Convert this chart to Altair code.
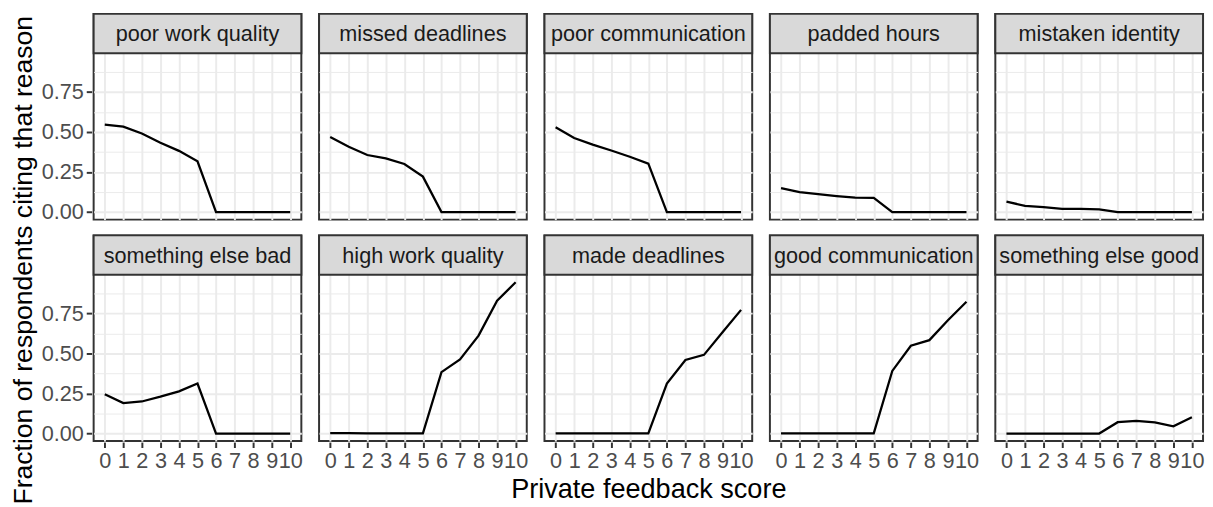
import altair as alt
import pandas as pd

reasons = [
    "poor work quality", "missed deadlines", "poor communication", "padded hours", "mistaken identity",
    "something else bad", "high work quality", "made deadlines", "good communication", "something else good",
]
scores = [0, 1, 2, 3, 4, 5, 6, 7, 8, 9, 10]

poor_work_quality = [0.546, 0.533, 0.490, 0.433, 0.382, 0.317, 0, 0, 0, 0, 0]
missed_deadlines = [0.468, 0.407, 0.356, 0.335, 0.300, 0.221, 0, 0, 0, 0, 0]
poor_communication = [0.529, 0.462, 0.421, 0.384, 0.345, 0.302, 0, 0, 0, 0, 0]
padded_hours = [0.149, 0.125, 0.112, 0.100, 0.090, 0.088, 0, 0, 0, 0, 0]
mistaken_identity = [0.065, 0.039, 0.031, 0.020, 0.020, 0.016, 0, 0, 0, 0, 0]
something_else_bad = [0.245, 0.190, 0.200, 0.230, 0.263, 0.312, 0, 0, 0, 0, 0]
high_work_quality = [0.002, 0.002, 0.001, 0.001, 0.001, 0.001, 0.383, 0.463, 0.611, 0.829, 0.944]
made_deadlines = [0.001, 0.001, 0.001, 0.001, 0.001, 0.001, 0.312, 0.459, 0.491, 0.632, 0.772]
good_communication = [0.001, 0.001, 0.001, 0.001, 0.001, 0.001, 0.391, 0.548, 0.583, 0.707, 0.823]
something_else_good = [0.0, 0.0, 0.0, 0.0, 0.0, 0.0, 0.071, 0.079, 0.069, 0.045, 0.102]

series = [
    poor_work_quality, missed_deadlines, poor_communication, padded_hours, mistaken_identity,
    something_else_bad, high_work_quality, made_deadlines, good_communication, something_else_good,
]

rows = []
for r, vals in zip(reasons, series):
    for s, v in zip(scores, vals):
        rows.append({"reason": r, "score": s, "frac": v})
df = pd.DataFrame(rows)

FONT = "Liberation Sans"
W = 211
H = 209
STRIP = 40

y_scale = alt.Scale(domain=[-0.0472, 1.2370], nice=False, zero=False)
x_scale = alt.Scale(type="point", padding=0.6)

major_test = "round(datum.value * 8) % 2 === 0"

x_axis = alt.Axis(
    title=None, labelAngle=0, labelOverlap=False, grid=True, gridColor="#EBEBEB", gridWidth=2,
    domain=False, ticks=True, tickSize=5.5, tickWidth=2, tickColor="#333333",
    labelFont=FONT, labelFontSize=22, labelColor="#4D4D4D", labelPadding=3,
)
y_axis = alt.Axis(
    title=None, values=[0, 0.125, 0.25, 0.375, 0.5, 0.625, 0.75, 0.875],
    labelExpr=major_test + " ? format(datum.value, '.2f') : ''",
    grid=True, gridColor="#EBEBEB",
    gridWidth={"condition": {"test": major_test, "value": 2}, "value": 1},
    tickOpacity={"condition": {"test": major_test, "value": 1}, "value": 0},
    domain=False, tickSize=5.5, tickWidth=2, tickColor="#333333",
    labelFont=FONT, labelFontSize=22, labelColor="#4D4D4D", labelPadding=3,
)

base = alt.Chart(df)

line = base.mark_line(color="black", strokeWidth=2.3).encode(
    x=alt.X("score:O", scale=x_scale, axis=x_axis, sort=scores),
    y=alt.Y("frac:Q", scale=y_scale, axis=y_axis),
)

strip_rect = base.transform_filter("datum.score == 0").mark_rect(
    fill="#D9D9D9", stroke="#333333", strokeWidth=2
).encode(x=alt.value(0), x2=alt.value(W), y=alt.value(0), y2=alt.value(STRIP))

strip_text = base.transform_filter("datum.score == 0").mark_text(
    font=FONT, fontSize=22, color="#1A1A1A", baseline="middle", align="center"
).encode(x=alt.value(W / 2), y=alt.value(STRIP / 2 + 1), text="reason:N")

chart = alt.layer(line, strip_rect, strip_text).properties(width=W, height=H).facet(
    facet=alt.Facet(
        "reason:N", sort=reasons,
        header=alt.Header(
            labels=False, labelFontSize=0, labelPadding=0, labelExpr="''",
            title="Private feedback score", titleOrient="bottom",
            titleFont=FONT, titleFontSize=27.5, titleColor="black", titleFontWeight="normal",
            titlePadding=5,
        ),
    ),
    columns=5,
    spacing={"row": 13, "column": 14},
).properties(
    title=alt.TitleParams(
        "Fraction of respondents citing that reason", orient="left", anchor="middle",
        font=FONT, fontSize=27, fontWeight="normal", color="black", offset=3, dx=-2.5,
    ),
    padding={"left": 2, "top": 0, "right": 0, "bottom": 0},
).configure_view(stroke="#333333", strokeWidth=2).configure_header(labels=False)

chart.save("out.html", embed_options={"renderer": "svg", "actions": False})
